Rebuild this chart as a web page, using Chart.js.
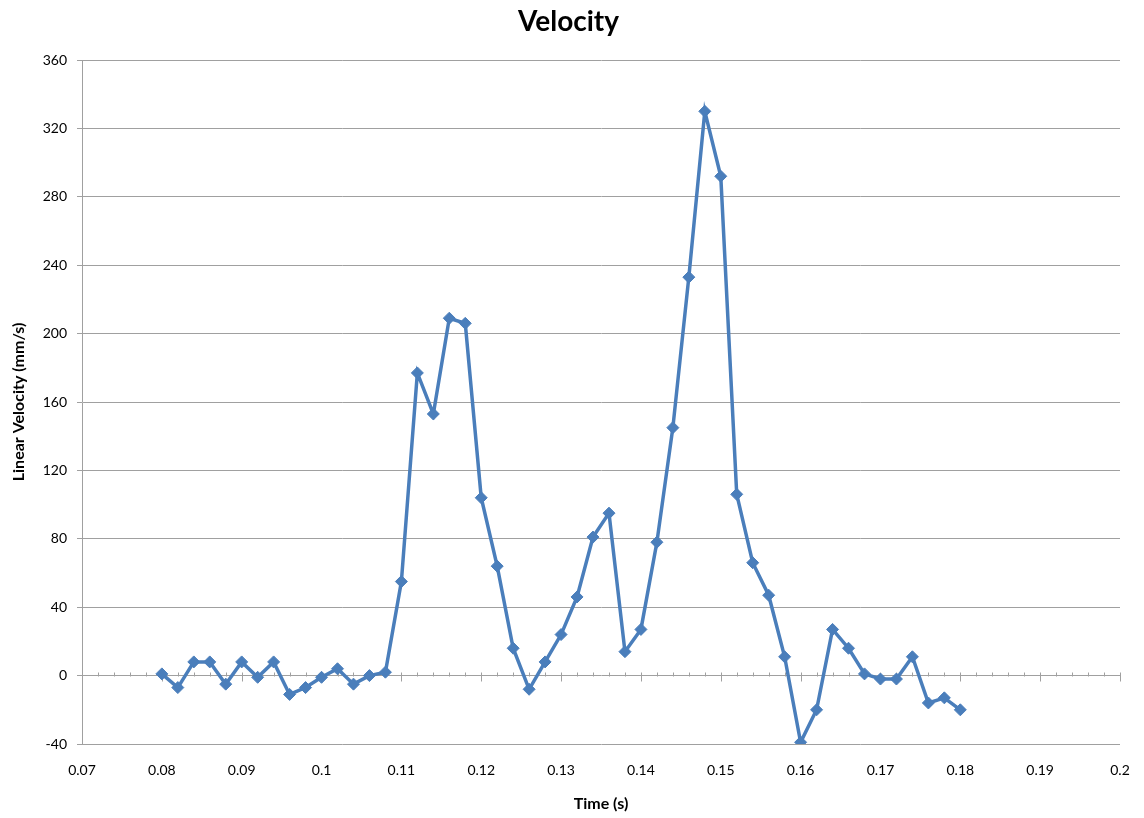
<!DOCTYPE html>
<html>
<head>
<meta charset="utf-8">
<title>Velocity</title>
<script src="https://cdn.jsdelivr.net/npm/chart.js@4/dist/chart.umd.min.js"></script>
<style>
  html, body { margin: 0; padding: 0; background: #ffffff; }
  #wrap { width: 1144px; height: 818px; }
</style>
</head>
<body>
<div id="wrap"><canvas id="chart" width="1144" height="818"></canvas></div>
<script>
// Sample times (s)
const times = [
  0.080, 0.082, 0.084, 0.086, 0.088, 0.090, 0.092, 0.094, 0.096, 0.098,
  0.100, 0.102, 0.104, 0.106, 0.108, 0.110, 0.112, 0.114, 0.116, 0.118,
  0.120, 0.122, 0.124, 0.126, 0.128, 0.130, 0.132, 0.134, 0.136, 0.138,
  0.140, 0.142, 0.144, 0.146, 0.148, 0.150, 0.152, 0.154, 0.156, 0.158,
  0.160, 0.162, 0.164, 0.166, 0.168, 0.170, 0.172, 0.174, 0.176, 0.178,
  0.180
];

// Linear velocity (mm/s)
const velocity = [
  1, -7, 8, 8, -5, 8, -1, 8, -11, -7,
  -1, 4, -5, 0, 2, 55, 177, 153, 209, 206,
  104, 64, 16, -8, 8, 24, 46, 81, 95, 14,
  27, 78, 145, 233, 330, 292, 106, 66, 47, 11,
  -39, -20, 27, 16, 1, -2, -2, 11, -16, -13,
  -20
];

// Axis tick values
const xTicks = [0.07, 0.08, 0.09, 0.1, 0.11, 0.12, 0.13, 0.14, 0.15, 0.16, 0.17, 0.18, 0.19, 0.2];
const yTicks = [-40, 0, 40, 80, 120, 160, 200, 240, 280, 320, 360];

const gridColor = '#a0a0a0';
const lineColor = '#4a7ebb';
const fontFamily = 'Lato, "Open Sans", "DejaVu Sans", sans-serif';

// Draws the horizontal time axis at velocity 0 with major/minor tick marks
const zeroAxisTicks = {
  id: 'zeroAxisTicks',
  beforeDatasetsDraw(chart) {
    const { ctx, scales: { x, y } } = chart;
    const y0 = Math.round(y.getPixelForValue(0)) + 0.5;
    ctx.save();
    ctx.strokeStyle = gridColor;
    ctx.lineWidth = 1;
    ctx.beginPath();
    for (let i = 0; i < xTicks.length - 1; i++) {
      const a = xTicks[i], b = xTicks[i + 1];
      for (let k = 0; k < 5; k++) {
        const v = a + (b - a) * k / 5;
        const px = Math.round(x.getPixelForValue(v)) + 0.5;
        if (k === 0) {
          ctx.moveTo(px, y0 - 4);
          ctx.lineTo(px, y0 + 5);
        } else {
          ctx.moveTo(px, y0 - 4);
          ctx.lineTo(px, y0);
        }
      }
    }
    const last = Math.round(x.getPixelForValue(xTicks[xTicks.length - 1])) + 0.5;
    ctx.moveTo(last, y0 - 4);
    ctx.lineTo(last, y0 + 5);
    ctx.stroke();
    ctx.restore();
  }
};

new Chart(document.getElementById('chart'), {
  type: 'line',
  data: {
    datasets: [{
      label: 'Velocity',
      data: times.map((t, i) => ({ x: t, y: velocity[i] })),
      borderColor: lineColor,
      backgroundColor: lineColor,
      borderWidth: 3.5,
      tension: 0,
      pointStyle: 'rectRot',
      pointRadius: 6,
      pointBorderWidth: 1,
      pointBackgroundColor: lineColor,
      pointBorderColor: lineColor,
      fill: false
    }]
  },
  options: {
    responsive: false,
    animation: false,
    devicePixelRatio: 1,
    layout: { padding: { left: 0, right: 7, top: 0, bottom: 0 } },
    plugins: {
      legend: { display: false },
      tooltip: { enabled: false },
      title: {
        display: true,
        text: 'Velocity',
        color: '#000000',
        font: { family: fontFamily, size: 28, weight: 'bold' },
        padding: { top: 5, bottom: 21.4 }
      }
    },
    scales: {
      x: {
        type: 'linear',
        position: 'bottom',
        min: 0.07,
        max: 0.2,
        afterBuildTicks(scale) { scale.ticks = xTicks.map(v => ({ value: v })); },
        afterFit(scale) {
          scale.height = 74;
          scale.paddingLeft = 0;
          scale.paddingRight = 24;
        },
        grid: { display: false, drawTicks: false },
        border: { display: false },
        ticks: {
          color: '#000000',
          font: { family: fontFamily, size: 14 },
          padding: 18,
          maxRotation: 0,
          autoSkip: false,
          callback: v => String(Number(v.toFixed(2)))
        },
        title: {
          display: true,
          text: 'Time (s)',
          color: '#000000',
          font: { family: fontFamily, size: 16, weight: 'bold' },
          padding: { top: 0, bottom: 5 }
        }
      },
      y: {
        type: 'linear',
        min: -40,
        max: 360,
        afterBuildTicks(scale) { scale.ticks = yTicks.map(v => ({ value: v })); },
        afterFit(scale) { scale.width = 82; },
        grid: {
          color: gridColor,
          lineWidth: 1,
          tickLength: 5,
          tickColor: gridColor
        },
        border: { display: true, color: gridColor, width: 1 },
        ticks: {
          color: '#000000',
          font: { family: fontFamily, size: 14 },
          padding: 10
        },
        title: {
          display: true,
          text: 'Linear Velocity (mm/s)',
          color: '#000000',
          font: { family: fontFamily, size: 16, weight: 'bold' },
          padding: { top: 9, bottom: 0 }
        }
      }
    }
  },
  plugins: [zeroAxisTicks]
});
</script>
</body>
</html>
